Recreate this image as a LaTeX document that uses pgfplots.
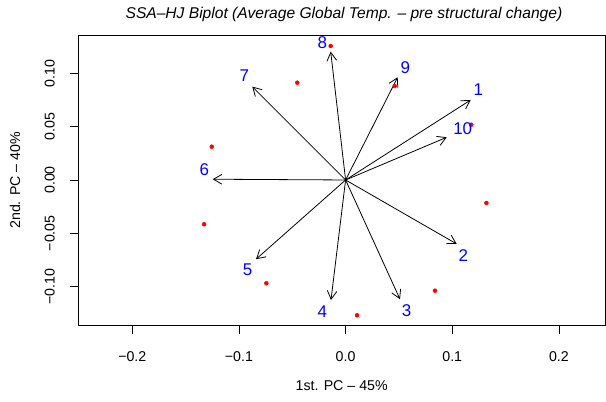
\documentclass[border=0pt]{standalone}
\usepackage{pgfplots}
\pgfplotsset{compat=1.18}
\usepackage{fontspec}
\setmainfont{Liberation Sans}
\usetikzlibrary{arrows.meta}
\begin{document}
\begin{tikzpicture}
\useasboundingbox (-78.3bp,-76.3bp) rectangle (527.7bp,325.7bp);
\begin{axis}[
  at={(0,0)}, anchor=south west,
  scale only axis, width=526.7bp, height=290.7bp,
  xmin=-0.2506, xmax=0.2432, ymin=-0.1366, ymax=0.1359,
  axis line style={line width=0.8bp},
  xtick={-0.2,-0.1,0,0.1,0.2},
  xticklabels={−0.2,−0.1,0.0,0.1,0.2},
  ytick={-0.1,-0.05,0,0.05,0.1},
  yticklabels={−0.10,−0.05,0.00,0.05,0.10},
  tick align=outside, major tick length=8.5bp,
  tick style={line width=0.8bp, black},
  xtick pos=bottom, ytick pos=left,
  xticklabel style={anchor=center, yshift=-22.8bp},
  yticklabel style={rotate=90, anchor=center, yshift=20bp},
  ticklabel style={font=\fontsize{14.2bp}{16bp}\selectfont},
  xlabel={1st. PC – 45\%},
  ylabel={2nd. PC – 40\%},
  label style={font=\fontsize{14.2bp}{16bp}\selectfont},
  xlabel style={at={(axis description cs:0.5,0)}, anchor=center, yshift=-60bp},
  ylabel style={at={(axis description cs:0,0.5)}, anchor=center, rotate=0, yshift=63.3bp},
  title={SSA–HJ Biplot (Average Global Temp. – pre structural change)},
  title style={at={(axis description cs:0.5044,1)}, anchor=base, yshift=11bp, font=\itshape\fontsize{15.6bp}{18bp}\selectfont},
  clip=false,
]
\addplot[black, line width=0.8bp, -{Straight Barb[length=8.4bp,width=9.7bp]},
  quiver={u=\thisrow{u}, v=\thisrow{v}}] table {
x y u v
0 0 0.1173 0.0750
0 0 0.1042 -0.0600
0 0 0.0510 -0.1118
0 0 -0.0137 -0.1125
0 0 -0.0840 -0.0743
0 0 -0.1246 0.0007
0 0 -0.0875 0.0875
0 0 -0.01397 0.1203
0 0 0.0488 0.0963
0 0 0.0948 0.0400
};
\addplot[only marks, mark=*, mark size=2bp, red, mark options={draw=none, fill=red}] table {
x y
-0.0140 0.1256
-0.0453 0.0912
-0.1255 0.0312
-0.1327 -0.0415
-0.0743 -0.0968
0.0107 -0.1268
0.0838 -0.1038
0.1320 -0.0216
0.1178 0.0518
0.0460 0.0881
};
\addplot[only marks, mark=*, mark size=0pt, mark options={draw=none, fill=none},
  nodes near coords, point meta=explicit symbolic,
  nodes near coords align=center,
  nodes near coords style={anchor=center, text=blue, inner sep=0pt, font=\fontsize{17bp}{19bp}\selectfont}] table[meta=lab] {
x y lab
0.1244 0.0844 1
0.1103 -0.0706 2
0.0573 -0.1225 3
-0.0218 -0.1235 4
-0.0918 -0.0844 5
-0.1325 0.0100 6
-0.0950 0.0975 7
-0.0218 0.1287 8
0.0560 0.1053 9
0.1098 0.0485 10
};
\end{axis}
\end{tikzpicture}
\end{document}
